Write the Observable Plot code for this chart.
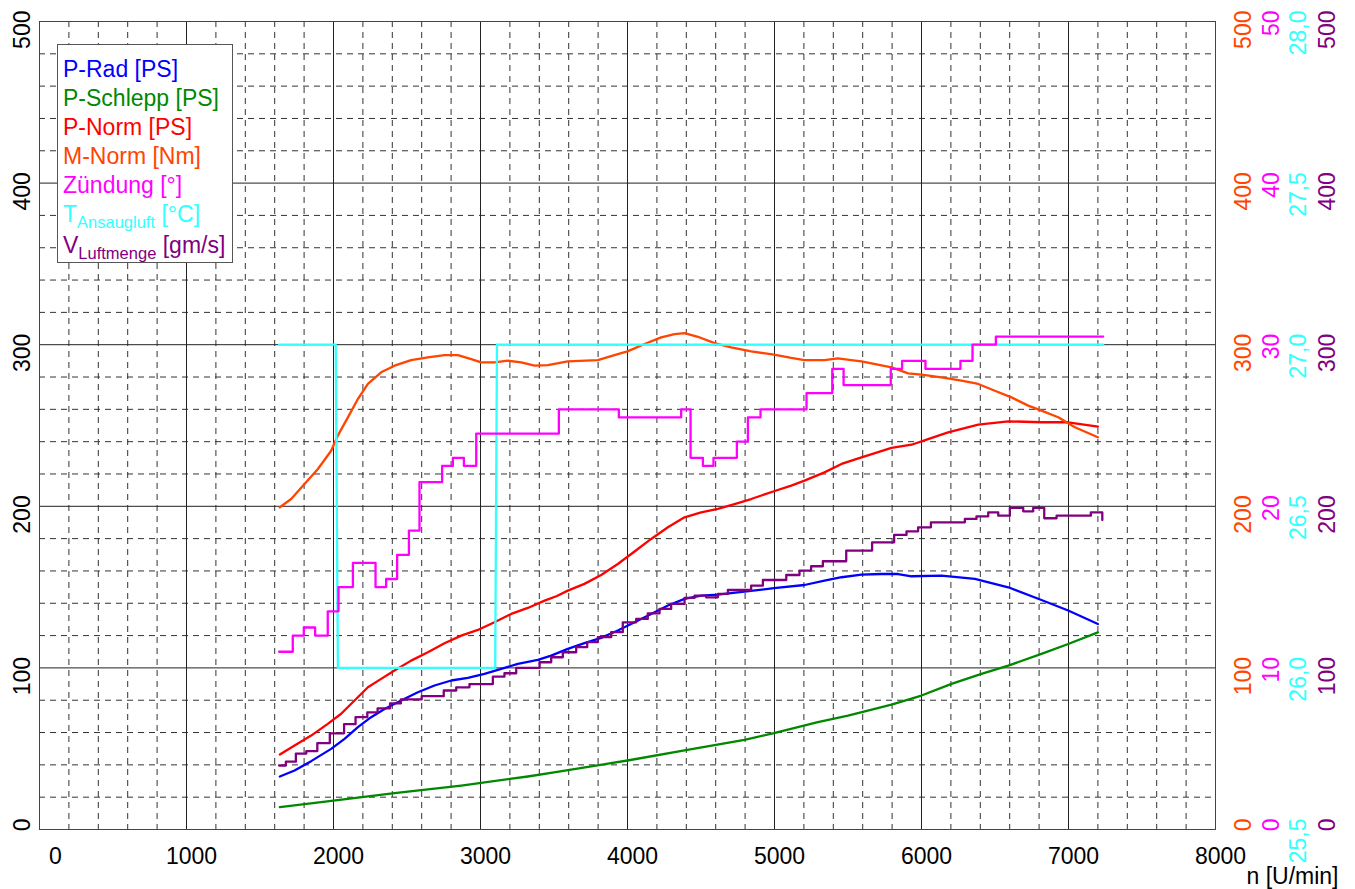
<!DOCTYPE html>
<html>
<head>
<meta charset="utf-8">
<script src="https://cdn.jsdelivr.net/npm/d3@7"></script>
<script src="https://cdn.jsdelivr.net/npm/@observablehq/plot@0.6"></script>
<style>
  body { margin: 0; background: #fff; }
  #wrap { position: relative; width: 1355px; height: 889px; font-family: "Liberation Sans", Arial, sans-serif; }
  #legend { position: absolute; left: 57px; top: 44px; width: 169px; height: 207.5px; border: 1px solid #555; background: #fff;
            padding: 9.5px 0 0 5px; font-size: 23px; line-height: 29px; white-space: nowrap; }
  #legend .sub { font-size: 16.5px; position: relative; top: 6px; }
</style>
</head>
<body>
<div id="wrap"></div>
<script>
// ---------- data ----------
const rpmPRad = [1635,1735,1848,1984,2075,2166,2256,2347,2460,2574,2687,2801,2914,3027,3141,3254,3390,3481,3594,3707,3821,3934,4048,4161,4275,4388,4501,4615,4796,4996,5204,5340,5456,5592,5728,5841,5932,6136,6363,6590,6816,6998,7200];
const pRad    = [32.8,36.5,42.3,49.9,56.1,63.3,69.5,74.6,79.8,84.9,89.1,92.2,93.8,96.3,99.4,102.5,105,107.6,111.8,115.3,118.6,123.1,128.2,133.4,138.6,142.7,144.7,145.4,147.2,149.3,151.3,154,156.1,157.7,158.1,158.1,156.7,157.1,155.1,149.9,142,135.5,127.2];

const rpmPSchlepp = [1635,2000,2415,2869,3322,3500,4000,4388,4796,4996,5295,5500,5796,6000,6204,6408,6590,6816,6998,7200];
const pSchlepp    = [13.8,17.9,22.5,27.2,32.8,35.3,42.7,48.9,55.5,59.6,66.4,70.5,77.3,82.9,90.1,96.3,101.4,108.7,114.8,122];

const rpmPNorm = [1635,1735,1848,1961,2052,2143,2234,2324,2415,2528,2642,2755,2869,2982,3095,3209,3322,3436,3520,3594,3707,3821,3934,4048,4161,4275,4388,4501,4615,4728,4841,4996,5114,5204,5340,5456,5592,5796,5932,6045,6181,6386,6590,6816,6998,7200];
const pNorm    = [46.4,52,58.1,65.4,71.6,79.8,88,93.2,98.4,104.5,109.7,115.3,120,123.5,128.2,133.4,137.1,141.6,144.5,147.8,152,157.5,164.3,172,179.8,187,193.2,196.3,198.4,201.4,204.5,209.3,212.8,215.9,221,226.2,230.3,236.1,238.1,241.6,245.8,250.5,252.6,252,252,249.3];

const rpmMNorm = [1635,1712,1803,1894,1984,2029,2098,2166,2234,2324,2415,2528,2642,2755,2846,2937,3005,3095,3186,3277,3368,3458,3594,3798,3934,4000,4116,4229,4320,4388,4479,4592,4705,4841,4996,5114,5204,5340,5431,5522,5592,5796,5909,6000,6136,6272,6386,6499,6612,6726,6816,6930,7043,7200];
const mNorm    = [199.4,204.5,213.8,223.1,234.4,243.7,255,266.4,275.7,282.9,287,290.5,292.2,293.6,293.6,291.1,289.1,289.1,290.1,289.1,287,287.4,289.7,290.5,294.2,295.9,300.4,304.5,306.6,307.2,304.9,301,298.4,295.9,293.8,291.8,290.5,290.5,291.5,290.5,289.7,286,282.3,281.5,279.8,277.7,275.7,271.5,267.4,262.3,259.2,255.1,248.9,242.7];

// Zündung in degrees (step series)
const rpmZuendung = [1630,1723,1798,1875,1961,2034,2132,2286,2358,2433,2513,2585,2739,2812,2887,2971,3533,3941,4365,4429,4513,4585,4744,4819,4905,5218,5393,5470,5791,5868,6027,6265,6347,6506,7236];
const zuendung    = [11.0,12.0,12.5,12.0,13.5,15.0,16.5,15.0,15.5,17.0,18.5,21.5,22.5,23.0,22.5,24.5,26.0,25.5,26.0,23.0,22.5,23.0,24.0,25.5,26.0,27.0,28.5,27.5,28.5,29.0,28.5,29.0,30.0,30.5,30.5];

// T Ansaugluft in °C
const rpmTAnsaug = [1630,2015,2030,3100,3112,7236];
const tAnsaug    = [27.0,27.0,26.0,26.0,27.0,27.0];

// V Luftmenge in gm/s (step series)
const rpmVLuft = [1630,1676,1744,1815,1890,1975,2072,2150,2230,2300,2385,2458,2600,2750,2835,2925,3084,3163,3243,3402,3481,3560,3651,3726,3798,3889,3968,4059,4138,4218,4297,4388,4456,4535,4615,4683,4841,4921,5080,5170,5249,5329,5488,5664,5814,5898,5977,6064,6295,6374,6454,6522,6601,6692,6760,6835,6919,7152,7230];
const vLuft    = [39.6,42,47,48.5,53.5,59.5,65.2,69.5,72.5,75,78,80.5,82.5,86,88,90,94.6,96.7,100,103.5,106.6,109.7,112.8,115.9,119,122.1,128.2,130.3,133.8,136.5,139.6,143.3,144.7,143.7,145.8,148.2,150.9,154.4,157.5,160.2,162.9,166,172.6,177.7,182.3,184.5,187,190.1,192.2,193.8,196.3,194.2,199,196.9,199,192.6,194.2,196.3,191.5];

// ticks
const xTicks = [0,1000,2000,3000,4000,5000,6000,7000,8000];
const yTicks = [0,100,200,300,400,500];
const mNormTicks = [0,100,200,300,400,500];
const zuendTicks = [0,10,20,30,40,50];
const tTicks = [25.5,26.0,26.5,27.0,27.5,28.0];
const vTicks = [0,100,200,300,400,500];
const xMinor = d3.range(200, 8000, 200).filter(v => v % 1000 !== 0);
const yMinor = d3.range(20, 500, 20).filter(v => v % 100 !== 0);
const xMajor = [1000,2000,3000,4000,5000,6000,7000];
const yMajor = [100,200,300,400];

const legendNames = ["P-Rad", "P-Schlepp", "P-Norm", "M-Norm", "Zündung", "T", "V"];
const legendSubs  = ["", "", "", "", "", "Ansaugluft", "Luftmenge"];
const legendUnits = ["[PS]", "[PS]", "[PS]", "[Nm]", "[°]", "[°C]", "[gm/s]"];
const xLabel = "n [U/min]";

// ---------- styles ----------
const C = {rad: "#0000ff", schlepp: "#008800", norm: "#ff0000", mnorm: "#ff4500", zuend: "#ff00ff", temp: "#33ffff", luft: "#800080"};
const legendColors = [C.rad, C.schlepp, C.norm, C.mnorm, C.zuend, C.temp, C.luft];
const FS = 23;
const SW = 2.3;

const zuendToY = d => d * 10;
const tempToY = d => (d - 25.5) * 200;
const fmtComma = d => d.toFixed(1).replace(".", ",");

const plot = Plot.plot({
  width: 1355, height: 889,
  marginLeft: 39, marginRight: 140, marginTop: 21, marginBottom: 60,
  x: {domain: [0, 8000], axis: null},
  y: {domain: [0, 500], axis: null},
  style: {fontFamily: "'Liberation Sans', Arial, sans-serif", background: "white", overflow: "visible"},
  marks: [
    Plot.ruleX(xMinor, {stroke: "#333", strokeDasharray: "6,5", strokeWidth: 1}),
    Plot.ruleY(yMinor, {stroke: "#333", strokeDasharray: "6,5", strokeWidth: 1}),
    Plot.ruleX(xMajor, {stroke: "#222", strokeWidth: 1}),
    Plot.ruleY(yMajor, {stroke: "#222", strokeWidth: 1}),
    Plot.frame({stroke: "#444"}),
    Plot.line(d3.zip(rpmPSchlepp, pSchlepp), {stroke: C.schlepp, strokeWidth: SW}),
    Plot.line(d3.zip(rpmPRad, pRad), {stroke: C.rad, strokeWidth: SW}),
    Plot.line(d3.zip(rpmPNorm, pNorm), {stroke: C.norm, strokeWidth: SW}),
    Plot.line(d3.zip(rpmMNorm, mNorm), {stroke: C.mnorm, strokeWidth: SW}),
    Plot.line(d3.zip(rpmTAnsaug, tAnsaug), {x: d => d[0], y: d => tempToY(d[1]), stroke: C.temp, strokeWidth: SW}),
    Plot.line(d3.zip(rpmZuendung, zuendung), {x: d => d[0], y: d => zuendToY(d[1]), stroke: C.zuend, strokeWidth: SW, curve: "step-after"}),
    Plot.line(d3.zip(rpmVLuft, vLuft), {stroke: C.luft, strokeWidth: SW, curve: "step-after"}),
    // left axis labels
    Plot.text(yTicks, {y: d => d, text: d => String(d), frameAnchor: "left", dx: -16.5, dy: -11, rotate: -90, textAnchor: "end", fontSize: FS, fill: "black"}),
    // right axes labels
    Plot.text(mNormTicks, {y: d => d, text: d => String(d), frameAnchor: "right", dx: 28.5, dy: -11, rotate: -90, textAnchor: "end", fontSize: FS, fill: C.mnorm}),
    Plot.text(zuendTicks, {y: zuendToY, text: d => String(d), frameAnchor: "right", dx: 56.5, dy: -11, rotate: -90, textAnchor: "end", fontSize: FS, fill: C.zuend}),
    Plot.text(tTicks, {y: tempToY, text: fmtComma, frameAnchor: "right", dx: 83, dy: -11, rotate: -90, textAnchor: "end", fontSize: FS, fill: C.temp}),
    Plot.text(vTicks, {y: d => d, text: d => String(d), frameAnchor: "right", dx: 112, dy: -11, rotate: -90, textAnchor: "end", fontSize: FS, fill: C.luft}),
    // bottom axis labels
    Plot.text(xTicks.slice(1), {x: d => d, text: d => String(d), frameAnchor: "bottom", dx: 5, dy: 18, lineAnchor: "top", fontSize: FS, fill: "black"}),
    Plot.text(xTicks.slice(0, 1), {x: d => d, text: d => String(d), frameAnchor: "bottom", dx: 16, dy: 18, lineAnchor: "top", fontSize: FS, fill: "black"}),
    Plot.text([xLabel], {text: d => d, frameAnchor: "bottom-right", dx: 123, dy: 47, textAnchor: "end", lineAnchor: "middle", fontSize: FS, fill: "black"})
  ]
});

const wrap = document.getElementById("wrap");
wrap.appendChild(plot);

const legend = document.createElement("div");
legend.id = "legend";
legendNames.forEach((name, i) => {
  const row = document.createElement("div");
  row.style.color = legendColors[i];
  row.appendChild(document.createTextNode(name));
  if (legendSubs[i]) {
    const s = document.createElement("span");
    s.className = "sub";
    s.textContent = legendSubs[i];
    row.appendChild(s);
  }
  row.appendChild(document.createTextNode(" " + legendUnits[i]));
  legend.appendChild(row);
});
wrap.appendChild(legend);
</script>
</body>
</html>
